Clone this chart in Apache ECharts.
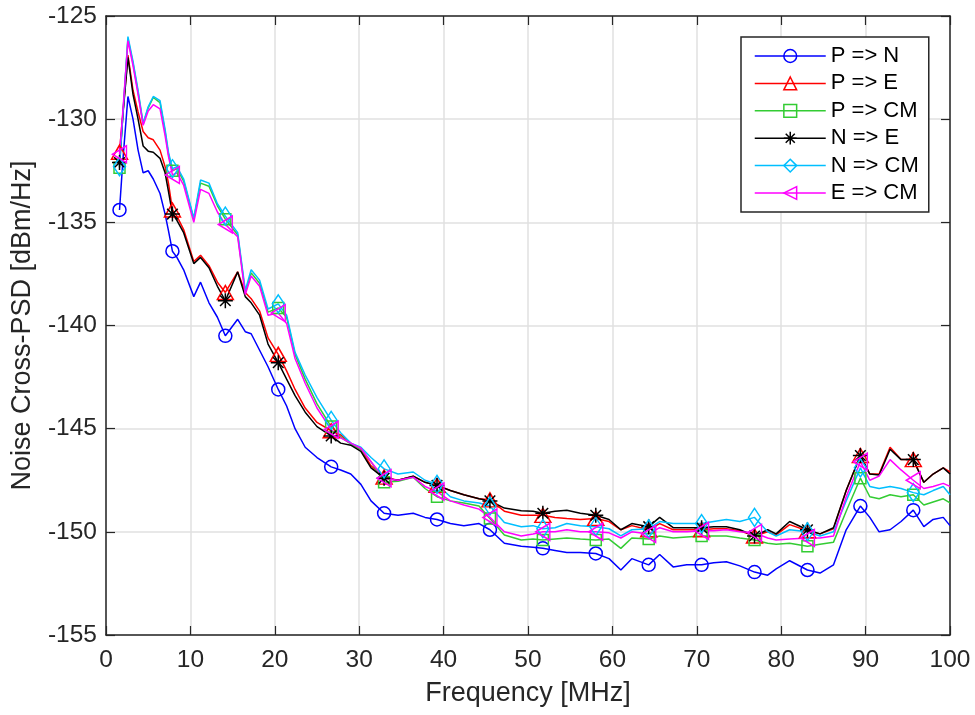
<!DOCTYPE html>
<html>
<head>
<meta charset="utf-8">
<script src="https://cdn.jsdelivr.net/npm/echarts@6/dist/echarts.min.js"></script>
<style>
  html, body { margin: 0; padding: 0; background: #ffffff; }
  #chart { width: 975px; height: 715px; }
</style>
</head>
<body>
<div id="chart"></div>
<script>
// Frequency grid (MHz) shared by all six cross-PSD traces
const freqMHz = [
  1.6, 2.0, 2.6, 3.2, 3.8, 4.4, 5.0, 5.6, 6.4, 7.0,
  7.4, 7.87, 8.4, 9.2, 10.4, 11.2, 12.2, 13.2, 14.14, 15.6,
  16.5, 17.2, 18.2, 19.2, 20.41, 21.4, 22.4, 23.6, 25.0, 26.68,
  27.8, 29.0, 30.2, 31.4, 32.95, 34.6, 36.4, 37.8, 39.22, 40.8,
  42.4, 44.2, 45.49, 47.2, 49.2, 50.6, 51.76, 53.2, 54.6, 56.2,
  58.03, 59.6, 61.0, 62.3, 64.3, 65.6, 67.2, 68.8, 70.57, 72.0,
  73.5, 75.1, 76.84, 78.4, 79.4, 81.0, 83.11, 84.6, 86.2, 87.7,
  89.38, 90.5, 91.6, 92.9, 94.2, 95.65, 96.9, 98.0, 99.2, 100
];

// Frequencies that carry a marker symbol
const markerFreqMHz = [
  1.6, 7.87, 14.14, 20.41, 26.68, 32.95, 39.22, 45.49,
  51.76, 58.03, 64.3, 70.57, 76.84, 83.11, 89.38, 95.65
];

// Noise cross-PSD in dBm/Hz
const pToN = [
  -134.4, -132.0, -128.9, -130.0, -131.5, -132.6, -132.5, -132.9, -133.6, -134.6,
  -135.4, -136.4, -136.7, -137.3, -138.6, -137.9, -138.9, -139.6, -140.5, -139.7,
  -140.3, -140.4, -141.2, -142.0, -143.1, -143.9, -145.0, -145.9, -146.4, -146.85,
  -147.0, -147.2, -147.7, -148.5, -149.1, -149.2, -149.1, -149.3, -149.4, -149.6,
  -149.7, -149.6, -149.9, -150.55, -150.7, -150.75, -150.8, -150.9, -151.0, -151.0,
  -151.05, -151.3, -151.85, -151.3, -151.6, -151.1, -151.7, -151.6, -151.6, -151.5,
  -151.45, -151.65, -151.95, -152.1, -151.8, -151.4, -151.85, -152.0, -151.6, -149.9,
  -148.75, -149.3, -150.0, -149.9, -149.5, -148.95, -149.75, -149.4, -149.3, -149.7
];
const pToE = [
  -131.6, -129.7, -126.9, -128.6, -129.65, -130.6, -130.9, -131.0, -131.5, -132.3,
  -133.1, -134.4, -134.7, -135.35, -136.9, -136.6, -137.1, -137.9, -138.4, -137.4,
  -138.4, -138.7, -139.3, -140.6, -141.4, -142.2, -143.1, -144.0, -144.7, -145.1,
  -145.3, -145.7, -146.0, -146.8, -147.35, -147.5, -147.3, -147.6, -147.75, -148.0,
  -148.2, -148.4, -148.45, -149.0, -149.2, -149.2, -149.2, -149.3, -149.35, -149.4,
  -149.35, -149.5, -149.9, -149.7, -149.9, -149.6, -149.9, -149.9, -149.9, -149.85,
  -149.85, -149.95, -150.2, -150.0, -150.15, -149.65, -149.95, -150.1, -149.85, -148.0,
  -146.3, -147.2, -147.2, -145.9, -146.5, -146.5, -147.6, -147.2, -146.9, -147.1
];
const pToCM = [
  -132.35, -129.8, -126.1, -127.3, -128.7, -130.25, -129.45, -128.95, -129.2, -130.6,
  -131.7, -132.5, -132.4, -133.0, -134.85, -133.1, -133.25, -134.2, -134.85, -135.6,
  -138.4, -137.45, -137.95, -139.35, -139.15, -139.6, -141.4, -142.6, -143.8, -144.9,
  -145.4, -145.75, -146.0, -146.6, -147.6, -147.55, -147.35, -147.9, -148.3, -148.5,
  -148.6, -148.75, -149.35, -150.15, -150.4, -150.35, -150.4, -150.35, -150.3, -150.35,
  -150.4, -150.35, -150.8, -150.3, -150.35, -150.2, -150.3, -150.25, -150.2, -150.2,
  -150.2, -150.3, -150.4, -150.55, -150.6, -150.55, -150.7, -150.6, -150.5, -149.0,
  -147.4, -148.3, -148.4, -148.2, -148.3, -148.2, -148.7, -148.55, -148.4, -148.6
];
const nToE = [
  -132.1, -129.8, -127.0, -128.8, -130.0, -131.3, -131.55, -131.6, -131.9, -132.6,
  -133.5, -134.6, -134.9, -135.5, -137.0, -136.7, -137.2, -138.1, -138.8, -137.4,
  -138.6, -138.9, -139.5, -140.9, -141.8, -142.6, -143.4, -144.2, -144.9, -145.35,
  -145.7, -145.8, -146.1, -146.9, -147.4, -147.5, -147.3, -147.6, -147.75, -148.0,
  -148.2, -148.4, -148.5, -148.85, -148.98, -149.0, -149.1, -149.0, -148.95, -149.1,
  -149.2, -149.4, -149.9, -149.6, -149.75, -149.3, -149.8, -149.8, -149.8, -149.75,
  -149.75, -149.9, -150.2, -149.9, -150.1, -149.5, -149.9, -150.1, -149.8, -148.0,
  -146.3, -147.2, -147.25, -146.0, -146.5, -146.5, -147.6, -147.2, -146.9, -147.2
];
const nToCM = [
  -132.3, -129.8, -126.0, -127.2, -128.6, -130.2, -129.4, -128.9, -129.1, -130.5,
  -131.6, -132.4, -132.3, -132.9, -134.8, -132.95, -133.1, -134.1, -134.7, -135.5,
  -138.3, -137.3, -137.8, -139.2, -138.95, -139.5, -141.3, -142.4, -143.5, -144.6,
  -145.2, -145.7, -145.9, -146.4, -146.95, -147.2, -147.1, -147.5, -147.7, -148.3,
  -148.5, -148.6, -148.75, -149.55, -149.75, -149.7, -149.85, -149.8, -149.6, -149.7,
  -149.75, -149.85, -150.2, -149.9, -149.85, -149.5, -149.6, -149.6, -149.6, -149.5,
  -149.4, -149.5, -149.3, -150.0, -150.2, -149.9, -150.0, -150.2, -150.0, -148.5,
  -146.9, -147.8, -147.9, -147.8, -147.9, -148.1, -148.2, -148.0, -147.8, -148.2
];
const eToCM = [
  -131.7, -129.6, -126.2, -127.4, -128.8, -130.3, -129.6, -129.3, -129.5, -130.8,
  -131.8, -132.7, -132.6, -133.2, -135.0, -133.4, -133.6, -134.5, -135.1, -135.7,
  -138.5, -137.6, -138.1, -139.5, -139.4, -139.9, -141.6, -142.8, -144.0, -145.05,
  -145.45, -145.7, -145.95, -146.6, -147.4, -147.5, -147.35, -147.8, -148.05, -148.5,
  -148.7, -148.9, -149.3, -150.0, -150.2, -150.1, -150.0, -150.0, -149.9, -150.0,
  -150.0, -150.05, -150.3, -150.0, -150.1, -149.8, -150.0, -150.0, -149.95, -149.95,
  -149.9, -150.0, -150.05, -150.3, -150.4, -150.35, -150.3, -150.3, -150.2, -148.3,
  -146.6, -147.5, -147.3, -146.5, -147.0, -147.5, -147.9, -147.8, -147.65, -147.8
];

const seriesNames = ['P => N', 'P => E', 'P => CM', 'N => E', 'N => CM', 'E => CM'];
const seriesValues = [pToN, pToE, pToCM, nToE, nToCM, eToCM];

// Line colours and marker shapes, one per trace
const FONT = '"Liberation Sans", Arial, Helvetica, sans-serif';
const AXIS_COLOR = '#262626';
const styles = [
  { color: '#0000ff', symbol: 'circle', size: 13 },
  { color: '#ff0000', symbol: 'triangle', size: [16, 14] },
  { color: '#33cc33', symbol: 'rect', size: 11 },
  { color: '#000000', symbol: 'path://M0,-10L0,10M-10,0L10,0M-7.07,-7.07L7.07,7.07M-7.07,7.07L7.07,-7.07', size: 15 },
  { color: '#00bfff', symbol: 'diamond', size: [12, 18] },
  { color: '#ff00ff', symbol: 'path://M10,-10L-7.3,0L10,10Z', size: [14, 17] }
];
const LINE_W = 1.5;
const markerSet = new Set(markerFreqMHz);

const series = seriesNames.map((name, i) => {
  const st = styles[i];
  return {
    name: name,
    type: 'line',
    xAxisIndex: 0,
    yAxisIndex: 0,
    data: freqMHz.map((f, k) => [f, seriesValues[i][k]]),
    symbol: st.symbol,
    symbolSize: (val) => (markerSet.has(val[0]) ? st.size : 0),
    showAllSymbol: true,
    lineStyle: { color: st.color, width: LINE_W },
    itemStyle: { color: 'rgba(0,0,0,0)', borderColor: st.color, borderWidth: LINE_W },
    emphasis: { disabled: true },
    silent: true,
    clip: true
  };
});

const axisLine = { show: true, onZero: false, lineStyle: { color: AXIS_COLOR, width: 1.5 } };
const axisTick = { show: true, inside: true, length: 9, lineStyle: { color: AXIS_COLOR, width: 1.2 } };
const gridLine = { show: true, lineStyle: { color: '#e0e0e0', width: 1.5 } };

const option = {
  animation: false,
  backgroundColor: '#ffffff',
  textStyle: { fontFamily: FONT },
  grid: { left: 106, right: 25, top: 16, bottom: 80, containLabel: false },
  xAxis: [
    {
      type: 'value', min: 0, max: 100, interval: 10, position: 'bottom',
      name: 'Frequency [MHz]', nameLocation: 'middle', nameGap: 45,
      nameTextStyle: { fontSize: 27, color: AXIS_COLOR, fontFamily: FONT },
      axisLine: axisLine, axisTick: axisTick,
      axisLabel: { fontSize: 24.5, color: AXIS_COLOR, margin: 13, fontFamily: FONT },
      splitLine: gridLine
    },
    {
      type: 'value', min: 0, max: 100, interval: 10, position: 'top',
      axisLine: axisLine, axisTick: axisTick,
      axisLabel: { show: false }, splitLine: { show: false }
    }
  ],
  yAxis: [
    {
      type: 'value', min: -155, max: -125, interval: 5, position: 'left',
      name: 'Noise Cross-PSD [dBm/Hz]', nameLocation: 'middle', nameGap: 70,
      nameTextStyle: { fontSize: 27, color: AXIS_COLOR, fontFamily: FONT },
      axisLine: axisLine, axisTick: axisTick,
      axisLabel: { fontSize: 24.5, color: AXIS_COLOR, margin: 9, fontFamily: FONT },
      splitLine: gridLine
    },
    {
      type: 'value', min: -155, max: -125, interval: 5, position: 'right',
      axisLine: axisLine, axisTick: axisTick,
      axisLabel: { show: false }, splitLine: { show: false }
    }
  ],
  legend: {
    orient: 'vertical',
    left: 741,
    top: 37,
    padding: [8, 10, 8, 13],
    itemWidth: 71,
    itemHeight: 16,
    itemGap: 5.4,
    selectedMode: false,
    backgroundColor: '#ffffff',
    borderColor: AXIS_COLOR,
    borderWidth: 1.5,
    textStyle: { fontSize: 22, lineHeight: 22, color: '#000000', fontFamily: FONT },
    data: seriesNames.map((name, i) => ({
      name: name,
      itemStyle: { color: 'rgba(0,0,0,0)', borderColor: styles[i].color, borderWidth: LINE_W },
      lineStyle: { color: styles[i].color, width: LINE_W }
    }))
  },
  series: series
};

const chart = echarts.init(document.getElementById('chart'), null, { renderer: 'canvas' });
chart.setOption(option);
</script>
</body>
</html>
